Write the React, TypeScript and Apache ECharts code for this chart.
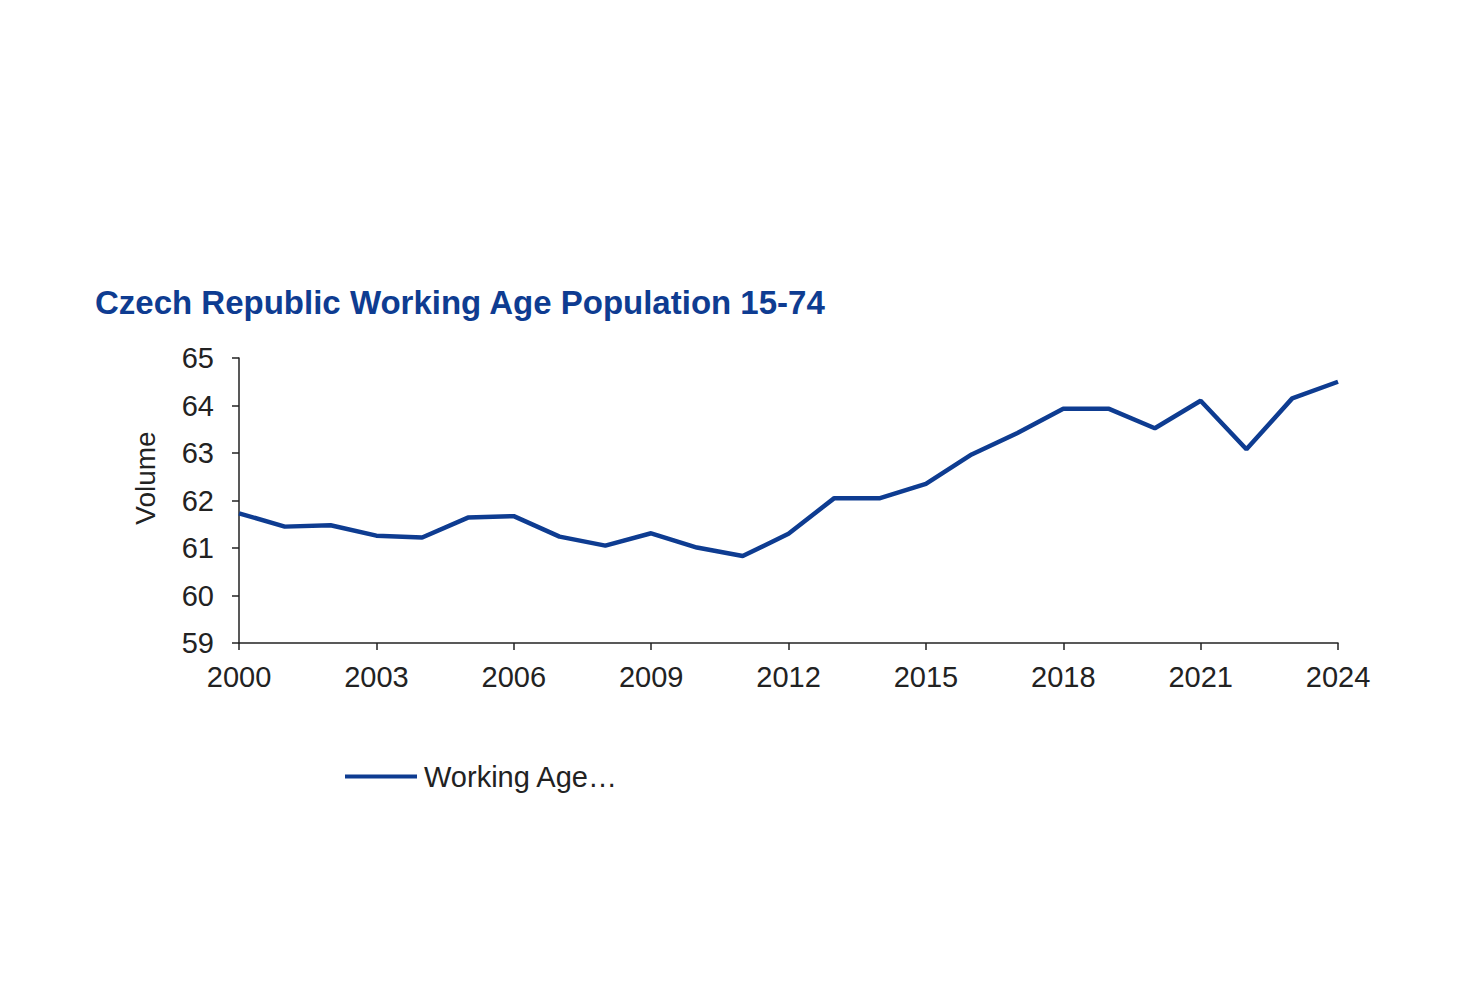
import React, { useEffect, useRef } from "react";
import * as echarts from "echarts";

const years = [
  "2000", "2001", "2002", "2003", "2004", "2005", "2006", "2007", "2008", "2009",
  "2010", "2011", "2012", "2013", "2014", "2015", "2016", "2017", "2018", "2019",
  "2020", "2021", "2022", "2023", "2024",
];
const workingAge = [
  61.73, 61.45, 61.48, 61.26, 61.22, 61.64, 61.67, 61.24, 61.05, 61.31,
  61.01, 60.83, 61.3, 62.05, 62.05, 62.35, 62.97, 63.42, 63.93, 63.93,
  63.52, 64.1, 63.08, 64.15, 64.5,
];
const titleText = "Czech Republic Working Age Population 15-74";
const seriesName = "Working Age Population 15-74";
const legendLabel = "Working Age\u2026";
const yAxisName = "Volume";

const BLUE = "#0E3C91";
const FONT = "'Liberation Sans', Arial, sans-serif";

export default function App() {
  const ref = useRef<HTMLDivElement>(null);
  useEffect(() => {
    if (!ref.current) return;
    const chart = echarts.init(ref.current, undefined, { renderer: "svg" });
    chart.setOption({
      animation: false,
      backgroundColor: "#ffffff",
      title: {
        text: titleText,
        left: 90,
        top: 281,
        textStyle: {
          fontFamily: FONT,
          fontSize: 33,
          fontWeight: "bold",
          color: BLUE,
        },
      },
      legend: {
        left: 340,
        top: 757,
        itemWidth: 72,
        itemHeight: 4,
        itemGap: 10,
        icon: "rect",
        formatter: () => legendLabel,
        textStyle: { fontFamily: FONT, fontSize: 29, color: "#222222", padding: [0, 0, 0, 2] },
      },
      graphic: [
        {
          type: "text",
          x: 145,
          y: 478,
          rotation: Math.PI / 2,
          style: {
            text: yAxisName,
            fontFamily: FONT,
            fontSize: 28,
            fill: "#222222",
            align: "center",
            verticalAlign: "middle",
          },
        },
      ],
      grid: { left: 239, top: 358, width: 1099, height: 285, containLabel: false },
      xAxis: {
        type: "category",
        data: years,
        boundaryGap: false,
        axisLine: { lineStyle: { color: "#222222", width: 1.5 } },
        axisTick: { interval: 2, length: 7, lineStyle: { color: "#222222", width: 1.5 } },
        axisLabel: {
          interval: 2,
          fontFamily: FONT,
          fontSize: 29,
          color: "#222222",
          margin: 19,
        },
        splitLine: { show: false },
      },
      yAxis: {
        type: "value",
        min: 59,
        max: 65,
        interval: 1,
        axisLine: { show: true, lineStyle: { color: "#222222", width: 1.5 } },
        axisTick: { show: true, length: 7, lineStyle: { color: "#222222", width: 1.5 } },
        axisLabel: { fontFamily: FONT, fontSize: 29, color: "#222222", margin: 25 },
        splitLine: { show: false },
      },
      series: [
        {
          name: seriesName,
          type: "line",
          data: workingAge,
          showSymbol: false,
          symbol: "none",
          lineStyle: { color: BLUE, width: 4.5 },
          itemStyle: { color: BLUE },
        },
      ],
    });
    return () => chart.dispose();
  }, []);
  return (
    <div
      ref={ref}
      style={{ position: "fixed", left: 0, top: 0, width: 1479, height: 981, background: "#fff" }}
    />
  );
}
